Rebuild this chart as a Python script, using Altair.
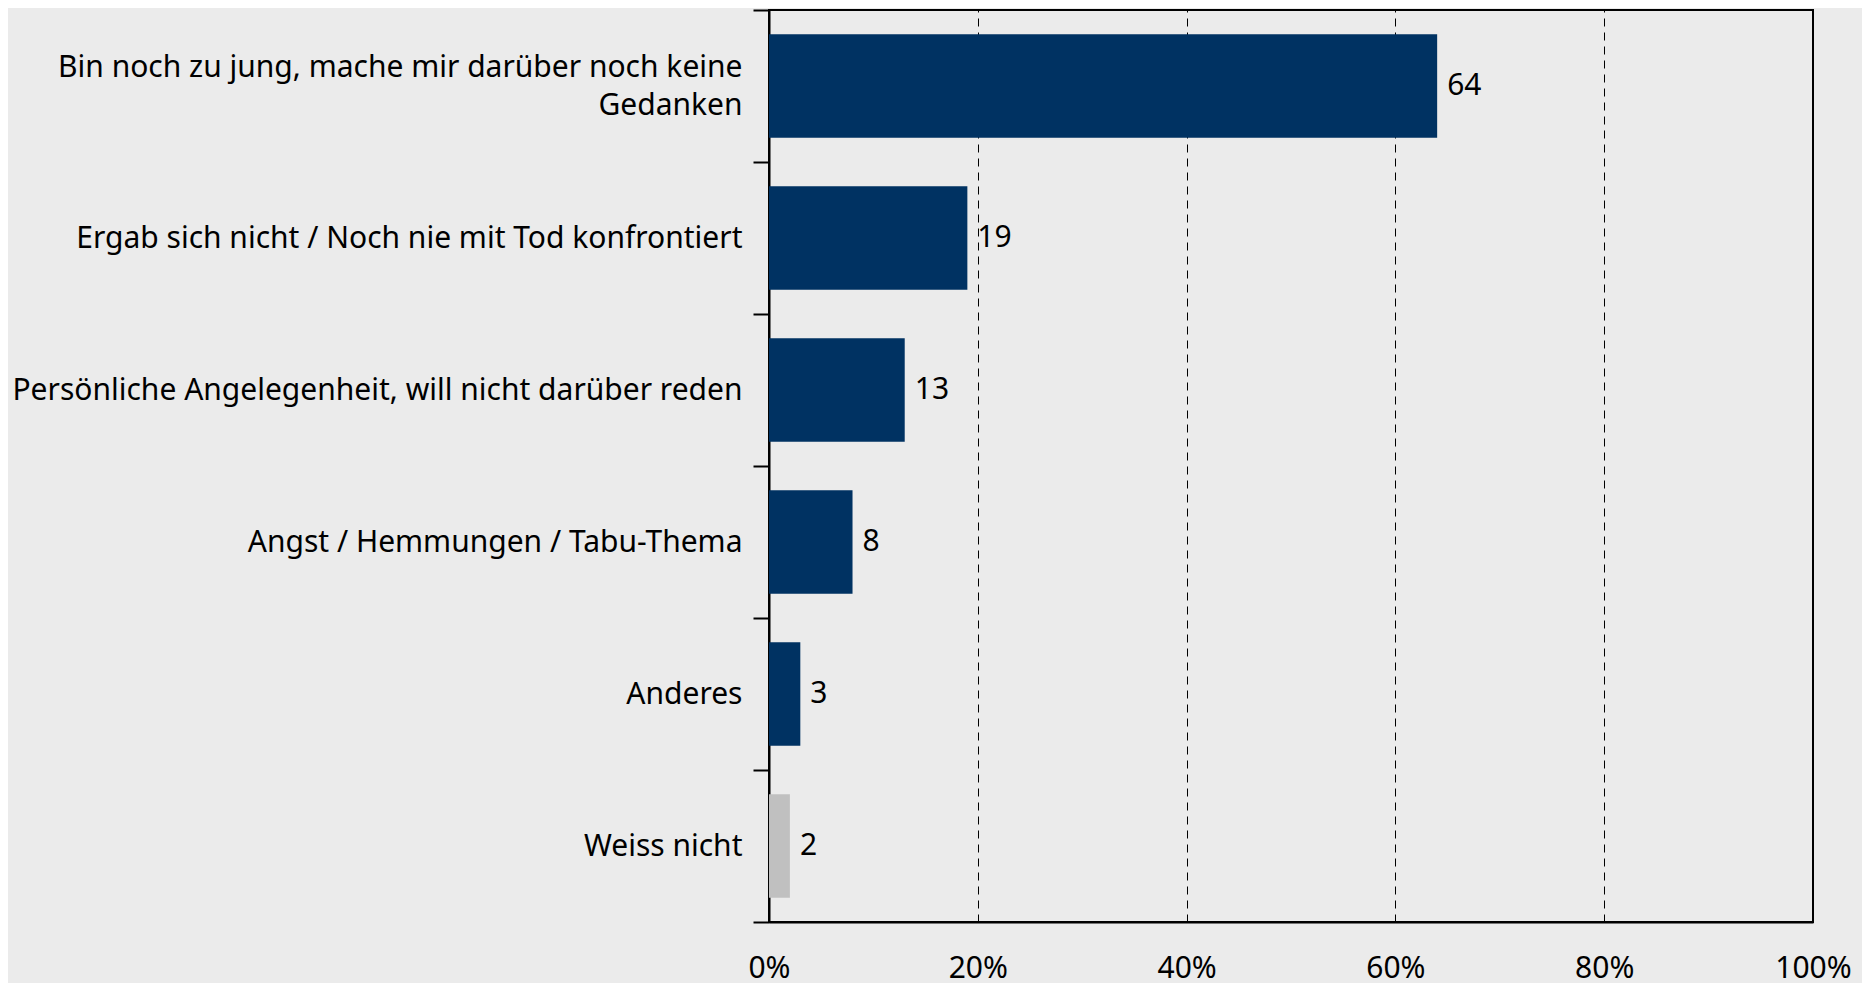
import altair as alt
import pandas as pd

categories = [
    "Bin noch zu jung, mache mir darüber noch keine|Gedanken",
    "Ergab sich nicht / Noch nie mit Tod konfrontiert",
    "Persönliche Angelegenheit, will nicht darüber reden",
    "Angst / Hemmungen / Tabu-Thema",
    "Anderes",
    "Weiss nicht",
]
values = [64, 19, 13, 8, 3, 2]
groups = ["main", "main", "main", "main", "main", "dk"]
x_ticks = [0, 0.2, 0.4, 0.6, 0.8, 1.0]

df = pd.DataFrame({
    "cat": categories,
    "val": values,
    "share": [v / 100 for v in values],
    "grp": groups,
})

FONT = "Noto Sans"
FS = 30

y_enc = alt.Y(
    "cat:N",
    sort=categories,
    scale=alt.Scale(paddingInner=0, paddingOuter=0),
    axis=alt.Axis(
        title=None,
        labelExpr="split(datum.label, '|')",
        labelFont=FONT,
        labelFontSize=FS,
        labelColor="#000000",
        labelLineHeight=38,
        labelPadding=11,
        labelOffset={
            "condition": {"test": "indexof(datum.label, '|') >= 0", "value": -19},
            "value": 0,
        },
        tickBand="extent",
        tickSize=16,
        tickColor="#000000",
        tickWidth=2,
        domain=True,
        domainColor="#000000",
        domainWidth=2,
        grid=False,
        labelLimit=900,
    ),
)

x_enc = alt.X(
    "share:Q",
    scale=alt.Scale(domain=[0, 1], nice=False),
    axis=alt.Axis(
        title=None,
        values=x_ticks,
        format=".0%",
        labelFont=FONT,
        labelFontSize=FS,
        labelColor="#000000",
        labelPadding=31,
        ticks=False,
        domain=True,
        domainColor="#000000",
        domainWidth=2,
        grid=True,
        gridColor="#000000",
        gridDash=[8, 6],
        gridWidth=1,
        labelFlush=False,
    ),
)

bars = alt.Chart(df).mark_bar(height={"band": 0.68}).encode(
    y=y_enc,
    x=x_enc,
    color=alt.Color(
        "grp:N",
        scale=alt.Scale(domain=["main", "dk"], range=["#003262", "#C0C0C0"]),
        legend=None,
    ),
)

texts = alt.Chart(df).mark_text(
    align="left", baseline="middle", dx=10, font=FONT, fontSize=FS, color="#000000"
).encode(
    y=alt.Y("cat:N", sort=categories),
    x=alt.X("share:Q"),
    text=alt.Text("val:Q"),
)

chart = (
    alt.layer(bars, texts)
    .properties(
        width=1044,
        height=912,
        background="#EBEBEB",
        padding={"left": 761, "top": 2, "right": 49, "bottom": 61},
        autosize=alt.AutoSizeParams(type="none"),
    )
    .configure_view(stroke="#000000", strokeWidth=2)
)

chart.save("out.html", embed_options={"renderer": "svg", "actions": False})
